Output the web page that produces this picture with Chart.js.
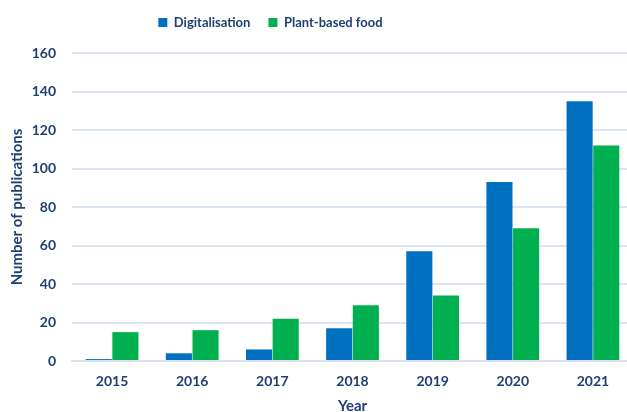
<!DOCTYPE html>
<html>
<head>
<meta charset="utf-8">
<script src="https://cdn.jsdelivr.net/npm/chart.js@4"></script>
<style>
  html, body { margin: 0; padding: 0; background: #fff; }
  #wrap { width: 627px; height: 412px; overflow: hidden; }
</style>
</head>
<body>
<div id="wrap"><canvas id="chart" width="633" height="415"></canvas></div>
<script>
const years = ['2015', '2016', '2017', '2018', '2019', '2020', '2021'];
const digitalisation = [1, 4, 6, 17, 57, 93, 135];
const plantBased = [15, 16, 22, 29, 34, 69, 112];

const textColor = '#1F3F73';
const fontFamily = 'Lato, "Open Sans", sans-serif';

// legend sits left of centre in the original, and the plot starts lower
const legendTweak = {
  id: 'legendTweak',
  beforeUpdate(chart) {
    const legend = chart.legend;
    if (legend && !legend._tweaked) {
      const fit = legend.fit;
      legend.fit = function () {
        fit.call(this);
        this.height = 55;
      };
      legend._tweaked = true;
    }
  },
  afterLayout(chart) {
    chart.legend.left -= 50;
    chart.legend.right -= 50;
  }
};

var ctx = document.getElementById('chart').getContext('2d');
var chart = new Chart(ctx, {
  type: 'bar',
  data: {
    labels: years,
    datasets: [{
      label: 'Digitalisation',
      data: digitalisation,
      backgroundColor: '#0070C0',
      barPercentage: 0.98,
      categoryPercentage: 0.665
    }, {
      label: 'Plant-based food',
      data: plantBased,
      backgroundColor: '#00B050',
      barPercentage: 0.98,
      categoryPercentage: 0.665
    }]
  },
  options: {
    responsive: false,
    animation: false,
    layout: { padding: { left: 8, right: 0, top: -2, bottom: 0 } },
    plugins: {
      legend: {
        position: 'top',
        labels: {
          color: textColor,
          font: { family: fontFamily, size: 13, weight: 'bold' },
          boxWidth: 9,
          boxHeight: 9,
          padding: 18
        }
      },
      tooltip: { enabled: false }
    },
    scales: {
      x: {
        grid: { display: false, drawTicks: false },
        border: { color: '#D6E0F0', width: 2 },
        ticks: {
          color: textColor,
          padding: 12,
          font: { family: fontFamily, size: 14, weight: 'bold' }
        },
        title: {
          display: true,
          text: 'Year',
          color: textColor,
          padding: { top: 0, bottom: 0 },
          font: { family: fontFamily, size: 15, weight: 'bold' }
        },
        afterFit(scale) { scale.height = 54; }
      },
      y: {
        min: 0,
        max: 160,
        grid: { color: '#DCE5F3', lineWidth: 2, drawTicks: false },
        border: { display: false },
        ticks: {
          stepSize: 20,
          color: textColor,
          padding: 16,
          font: { family: fontFamily, size: 14, weight: 'bold' }
        },
        title: {
          display: true,
          text: 'Number of publications',
          color: textColor,
          padding: { top: 0, bottom: 0 },
          font: { family: fontFamily, size: 15, weight: 'bold' }
        },
        afterFit(scale) { scale.width = 64; }
      }
    }
  },
  plugins: [legendTweak]
});
</script>
</body>
</html>
